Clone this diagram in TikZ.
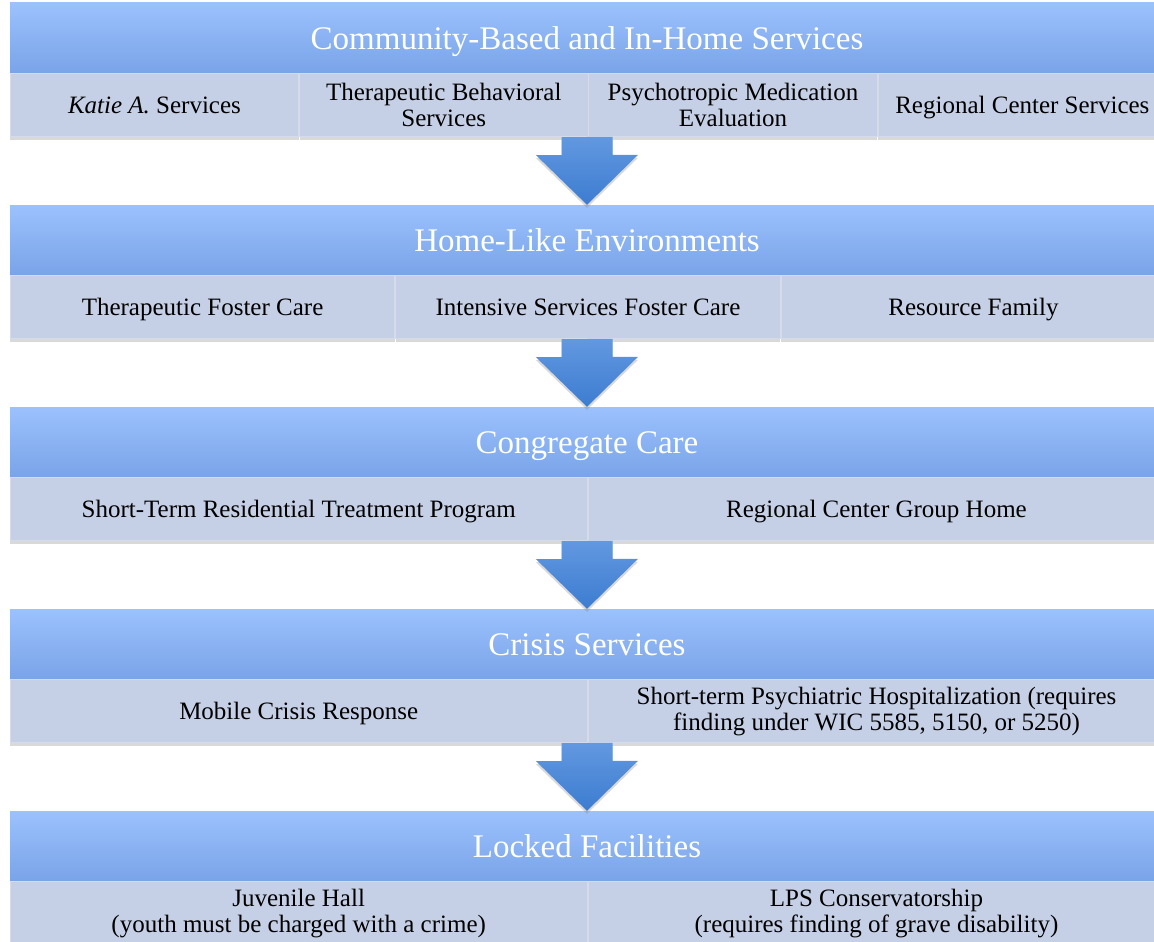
\documentclass[tikz,border=0pt]{standalone}
\usepackage{fontspec}
\setmainfont{Liberation Serif}
\usetikzlibrary{positioning, calc, shadows}

\definecolor{headtop}{RGB}{156,193,253}
\definecolor{headmid}{RGB}{150,188,250}
\definecolor{headbot}{RGB}{121,164,232}
\definecolor{cellfill}{RGB}{197,208,230}
\definecolor{celledge}{RGB}{212,220,236}
\definecolor{arrowtop}{RGB}{98,152,224}
\definecolor{arrowbot}{RGB}{60,124,208}

\begin{document}
\begin{tikzpicture}[x=1pt, y=1pt, node distance=0pt]
    % Styles
    \tikzset{
        head/.style   = {rectangle, minimum width=1154pt, minimum height=70pt, inner sep=0pt, text height=22pt, text depth=0pt, top color=headtop, middle color=headmid, bottom color=headbot, text=white, font=\fontsize{33}{36}\selectfont, drop shadow={shadow xshift=0pt, shadow yshift=-3pt, opacity=0.25}},
        cell/.style   = {rectangle, minimum height=63pt, inner sep=0pt, fill=cellfill, draw=celledge, line width=0.8pt, align=center, font=\fontsize{25}{26}\selectfont, drop shadow={shadow xshift=0pt, shadow yshift=-3pt, opacity=0.3}},
        single/.style = {text height=16.5pt, text depth=0pt},
        four/.style   = {cell, minimum width=288.5pt},
        three/.style  = {cell, minimum width=384.67pt},
        two/.style    = {cell, minimum width=577pt},
        flow/.style   = {top color=arrowtop, bottom color=arrowbot, drop shadow={shadow xshift=0pt, shadow yshift=-3pt, opacity=0.3}}
    }
    \useasboundingbox (0,0) rectangle (1154,-942);

    % Bandeaux
    \node [head] (hd1) at (587,-38) {Community-Based and In-Home Services};
    \node [head] (hd2) at (587,-240) {Home-Like Environments};
    \node [head] (hd3) at (587,-442) {Congregate Care};
    \node [head] (hd4) at (587,-644) {Crisis Services};
    \node [head] (hd5) at (587,-846) {Locked Facilities};

    % Services de chaque niveau
    \node [four, single, below right=of hd1.south west] (katie) {\textit{Katie A.} Services};
    \node [four, right=of katie] (tbs) {Therapeutic Behavioral\\Services};
    \node [four, right=of tbs] (psycho) {Psychotropic Medication\\Evaluation};
    \node [four, single, right=of psycho] (rcs) {Regional Center Services};

    \node [three, single, below right=of hd2.south west] (tfc) {Therapeutic Foster Care};
    \node [three, single, right=of tfc] (isfc) {Intensive Services Foster Care};
    \node [three, single, right=of isfc] (family) {Resource Family};

    \node [two, single, below right=of hd3.south west] (strtp) {Short-Term Residential Treatment Program};
    \node [two, single, right=of strtp] (group) {Regional Center Group Home};

    \node [two, single, below right=of hd4.south west] (mobile) {Mobile Crisis Response};
    \node [two, right=of mobile] (hosp) {Short-term Psychiatric Hospitalization (requires\\finding under WIC 5585, 5150, or 5250)};

    \node [two, below right=of hd5.south west] (juvenile) {Juvenile Hall\\(youth must be charged with a crime)};
    \node [two, right=of juvenile] (lps) {LPS Conservatorship\\(requires finding of grave disability)};

    % Flèches
    \foreach \a/\b in {1/2, 2/3, 3/4, 4/5}
        \shade [flow] ($(hd\a.south)+(-25.5,-64)$) -- ++(0,-18) -- ++(-25.5,0) -- (hd\b.north) -- ++(51,50) -- ++(-25.5,0) -- ++(0,18) -- cycle;
\end{tikzpicture}
\end{document}
